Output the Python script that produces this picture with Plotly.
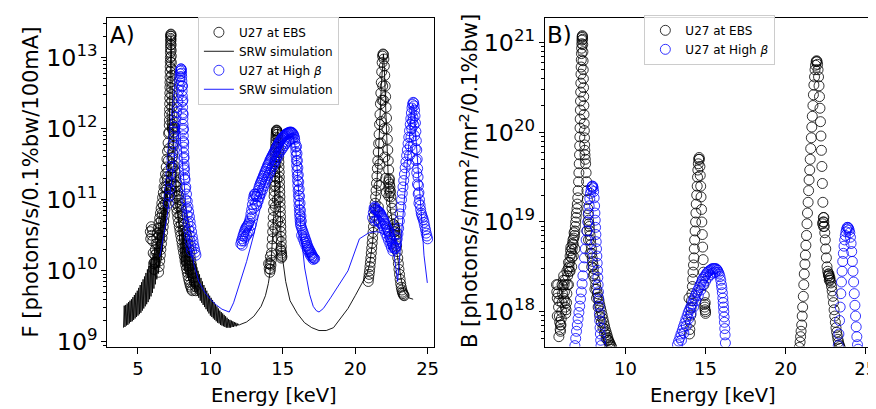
import plotly.graph_objects as go

W, H = 876, 409

# ================= PANEL A : flux (values are log10 of photons/s/0.1%bw/100mA) =================
# --- U27 at EBS, measured (black circles) ---
ebs_a_h1_e = [5.85, 5.88, 5.92, 5.95, 5.98, 6.02, 6.05, 6.08, 6.1, 6.13, 6.17, 6.2, 6.25, 6.3, 6.35, 6.4, 6.45,
              6.5, 6.55, 6.6, 6.65, 6.7, 6.75, 6.8, 6.85, 6.9, 6.95, 7.0, 7.04, 7.08, 7.12,
              6.42, 6.46, 6.5, 6.54, 6.58, 6.62, 6.66, 6.7, 6.74, 6.78, 6.82, 6.86, 6.9, 6.94, 6.98, 7.02, 7.06,
              7.1, 7.14,
              6.2, 6.28, 6.36, 6.44, 6.52, 6.6, 6.68, 6.76, 6.84, 6.92, 7.0,
              7.15, 7.16, 7.17, 7.175, 7.18, 7.19, 7.195, 7.2, 7.205, 7.21, 7.215, 7.22, 7.225, 7.23, 7.235, 7.24,
              7.245, 7.25, 7.255, 7.26, 7.265, 7.27, 7.275,
              7.28, 7.285, 7.29, 7.295, 7.3, 7.305, 7.31, 7.315, 7.32, 7.325, 7.33, 7.335, 7.34, 7.35, 7.36, 7.37,
              7.38, 7.39, 7.4,
              7.28, 7.32, 7.36, 7.4, 7.44, 7.48, 7.5, 7.46, 7.42, 7.38, 7.34, 7.3, 7.26, 7.22, 7.2,
              7.5, 7.55, 7.6, 7.65, 7.7, 7.75, 7.8, 7.85, 7.9, 7.95, 8.0, 8.05, 8.1, 8.15, 8.2, 8.25, 8.3, 8.35,
              8.4, 8.45, 8.5, 8.55, 8.6, 8.65, 8.7, 8.75, 8.8, 8.85, 8.9, 8.95, 9.0,
              7.42, 7.46, 7.5, 7.54, 7.58, 7.62, 7.66, 7.7, 7.75, 7.8, 7.85, 7.9, 7.95, 8.0, 8.05, 8.1, 8.15, 8.2,
              8.25, 8.3, 8.35, 8.4, 8.45, 8.5, 8.55, 8.6, 8.65, 8.7, 8.75,
              7.6, 7.7, 7.8, 7.9, 8.0, 8.1, 8.2, 8.3, 8.4, 8.5, 8.6, 8.7]
ebs_a_h1_log = [10.55, 10.45, 10.62, 10.5, 10.58, 10.42, 10.25, 10.1, 10.02, 10.12, 10.22, 10.3, 10.38, 10.46,
                10.53, 10.6, 10.67, 10.74, 10.81, 10.88, 10.95, 11.03, 11.1, 11.18, 11.27, 11.36, 11.46, 11.57,
                11.68, 11.8, 11.93,
                9.98, 10.06, 10.14, 10.22, 10.3, 10.38, 10.46, 10.54, 10.62, 10.7, 10.78, 10.86, 10.95, 11.05,
                11.15, 11.27, 11.4, 11.55, 11.72,
                10.12, 10.25, 10.38, 10.5, 10.6, 10.7, 10.8, 10.92, 11.05, 11.18, 11.32,
                11.95, 12.05, 12.12, 12.2, 12.27, 12.35, 12.43, 12.5, 12.58, 12.65, 12.72, 12.8, 12.87, 12.94,
                13.0, 13.07, 13.13, 13.18, 13.23, 13.27, 13.3, 13.32, 13.33,
                13.3, 13.25, 13.18, 13.1, 13.02, 12.93, 12.84, 12.75, 12.66, 12.57, 12.48, 12.39, 12.3, 12.2,
                12.12, 12.06, 12.02, 12.0, 11.98,
                11.2, 11.35, 11.5, 11.65, 11.8, 11.95, 12.02, 11.9, 11.75, 11.6, 11.45, 11.3, 11.15, 11.05, 11.1,
                11.48, 11.4, 11.32, 11.25, 11.18, 11.12, 11.06, 11.0, 10.95, 10.9, 10.85, 10.8, 10.75, 10.7,
                10.65, 10.6, 10.55, 10.5, 10.44, 10.38, 10.32, 10.26, 10.2, 10.14, 10.08, 10.02, 9.96, 9.9, 9.84,
                9.78, 9.72,
                11.45, 11.32, 11.22, 11.12, 11.03, 10.95, 10.88, 10.82, 10.75, 10.68, 10.62, 10.56, 10.5, 10.44,
                10.38, 10.32, 10.26, 10.2, 10.14, 10.08, 10.03, 9.98, 9.93, 9.88, 9.84, 9.8, 9.77, 9.74, 9.72,
                11.2, 11.05, 10.9, 10.78, 10.66, 10.56, 10.46, 10.36, 10.26, 10.16, 10.07, 9.98]
ebs_a_h2_e = [14.02, 14.06, 14.1, 14.12, 14.15, 14.18, 14.2, 14.14,
              14.22, 14.25, 14.28, 14.3, 14.32, 14.34, 14.36, 14.38, 14.4, 14.41, 14.42, 14.43, 14.44, 14.45,
              14.46, 14.47, 14.48, 14.49, 14.5, 14.51, 14.52, 14.53, 14.54, 14.55, 14.56, 14.57,
              14.6, 14.62, 14.64, 14.66, 14.68, 14.7, 14.71, 14.72, 14.73, 14.74, 14.75, 14.76, 14.77, 14.78,
              14.79, 14.8, 14.81, 14.82, 14.83, 14.84, 14.85, 14.86, 14.87, 14.88, 14.89, 14.9,
              14.88, 14.9, 14.92, 14.94, 14.9, 14.86,
              14.45, 14.48, 14.5, 14.52, 14.55, 14.58, 14.6, 14.62, 14.65, 14.68]
ebs_a_h2_log = [10.1, 10.03, 9.98, 10.1, 10.02, 10.08, 10.15, 10.2,
                10.25, 10.35, 10.45, 10.55, 10.65, 10.75, 10.85, 10.95, 11.05, 11.12, 11.19, 11.26, 11.33, 11.4,
                11.47, 11.54, 11.61, 11.67, 11.73, 11.79, 11.84, 11.88, 11.92, 11.95, 11.97, 11.98,
                11.97, 11.95, 11.92, 11.87, 11.81, 11.74, 11.67, 11.6, 11.53, 11.46, 11.39, 11.32, 11.25, 11.18,
                11.11, 11.04, 10.97, 10.9, 10.83, 10.76, 10.69, 10.62, 10.55, 10.48, 10.41, 10.34,
                10.28, 10.22, 10.25, 10.2, 10.18, 10.3,
                10.6, 10.9, 11.2, 11.5, 11.75, 11.6, 11.3, 11.0, 10.7, 10.45]
ebs_a_h3_e = [20.9, 20.93, 20.96, 20.99, 21.02, 21.05, 21.08, 21.11, 21.14, 21.17, 21.2, 21.23, 21.26, 21.29,
              21.32, 21.35, 21.38, 21.41, 21.44, 21.47, 21.5, 21.53, 21.56, 21.59, 21.62, 21.65, 21.68, 21.71,
              21.74, 21.77, 21.8, 21.83, 21.86, 21.89, 21.92,
              21.95, 21.98, 22.01, 22.04, 22.07, 22.1, 22.13, 22.16, 22.19, 22.22, 22.25, 22.28, 22.31, 22.34,
              22.37, 22.4, 22.43, 22.46, 22.5, 22.54, 22.58, 22.62, 22.66, 22.7, 22.74, 22.78, 22.82, 22.86, 22.9,
              22.94, 22.98, 23.02, 23.06, 23.1, 23.14, 23.18, 23.22, 23.26, 23.3, 23.34, 23.38,
              22.3, 22.33, 22.36, 22.4, 22.32, 22.65, 22.7, 22.72, 22.68, 22.75,
              21.6, 21.65, 21.7, 21.75, 21.8, 21.85, 21.9, 21.95, 22.0, 22.05, 22.1, 22.15]
ebs_a_h3_log = [9.85, 9.9, 9.95, 10.0, 10.06, 10.12, 10.18, 10.25, 10.32, 10.39, 10.46, 10.54, 10.62, 10.7, 10.78,
                10.86, 10.95, 11.04, 11.13, 11.23, 11.33, 11.44, 11.55, 11.67, 11.79, 11.92, 12.06, 12.2, 12.35,
                12.5, 12.65, 12.8, 12.93, 13.02, 13.05,
                13.04, 12.98, 12.88, 12.75, 12.6, 12.45, 12.3, 12.15, 12.0, 11.85, 11.7, 11.55, 11.42, 11.3,
                11.22, 11.18, 11.12, 11.04, 10.96, 10.88, 10.8, 10.72, 10.65, 10.6, 10.55, 10.5, 10.43, 10.35,
                10.27, 10.18, 10.1, 10.02, 9.95, 9.88, 9.82, 9.77, 9.73, 9.7, 9.68, 9.66, 9.65,
                11.25, 11.15, 11.28, 11.1, 11.05, 10.65, 10.55, 10.62, 10.5, 10.58,
                10.9, 11.2, 11.5, 11.8, 12.1, 12.4, 12.6, 12.4, 12.0, 11.6, 11.3, 11.1]

# --- SRW simulation for EBS (black line): fast-oscillating envelopes + smooth parts ---
srw_ebs_lo1_e = [4.0, 4.1, 4.2, 4.3, 4.4, 4.5, 4.6, 4.7, 4.8, 4.9, 5.0, 5.1, 5.2, 5.3, 5.4, 5.5, 5.6, 5.7, 5.8,
                 5.9, 6.0, 6.1, 6.2, 6.3, 6.4, 6.5, 6.6, 6.7, 6.8, 6.9, 7.0]
srw_ebs_lo1_log = [9.20, 9.21, 9.23, 9.24, 9.26, 9.28, 9.29, 9.31, 9.33, 9.35, 9.37, 9.39, 9.41, 9.44, 9.47, 9.50,
                   9.53, 9.56, 9.60, 9.64, 9.69, 9.75, 9.81, 9.88, 9.96, 10.05, 10.15, 10.27, 10.41, 10.58, 10.8]
srw_ebs_hi1_e = [4.05, 4.15, 4.25, 4.35, 4.45, 4.55, 4.65, 4.75, 4.85, 4.95, 5.05, 5.15, 5.25, 5.35, 5.45, 5.55,
                 5.65, 5.75, 5.85, 5.95, 6.05, 6.15, 6.25, 6.35, 6.45, 6.55, 6.65, 6.75, 6.85, 6.95]
srw_ebs_hi1_log = [9.51, 9.52, 9.54, 9.56, 9.58, 9.60, 9.63, 9.66, 9.69, 9.72, 9.76, 9.80, 9.84, 9.88, 9.92, 9.97,
                   10.02, 10.07, 10.12, 10.18, 10.25, 10.33, 10.42, 10.52, 10.62, 10.72, 10.85, 11.0, 11.15, 11.3]
srw_ebs_peak_e = [7.05, 7.1, 7.15, 7.2, 7.25, 7.28, 7.31, 7.35, 7.4, 7.5, 7.6, 7.7, 7.8, 7.9]
srw_ebs_peak_log = [11.0, 11.4, 11.9, 12.5, 13.1, 13.3, 13.1, 12.6, 12.1, 11.6, 11.3, 11.0, 10.75, 10.5]
srw_ebs_lo2_e = [8.0, 8.1, 8.2, 8.3, 8.4, 8.5, 8.6, 8.7, 8.8, 8.9, 9.0, 9.1, 9.2, 9.3, 9.4, 9.5, 9.6, 9.7, 9.8,
                 9.9, 10.0, 10.1, 10.2, 10.3, 10.4, 10.5, 10.6, 10.7, 10.8, 10.9, 11.0, 11.1, 11.2, 11.3, 11.4,
                 11.5, 11.6, 11.7, 11.8, 11.9, 12.0]
srw_ebs_lo2_log = [10.10, 10.05, 10.00, 9.95, 9.90, 9.86, 9.82, 9.78, 9.74, 9.71, 9.68, 9.65, 9.62, 9.58, 9.55,
                   9.52, 9.49, 9.46, 9.43, 9.40, 9.37, 9.35, 9.33, 9.31, 9.29, 9.27, 9.26, 9.24, 9.23, 9.22, 9.21,
                   9.20, 9.20, 9.20, 9.20, 9.21, 9.21, 9.22, 9.22, 9.23, 9.24]
srw_ebs_hi2_e = [8.05, 8.15, 8.25, 8.35, 8.45, 8.55, 8.65, 8.75, 8.85, 8.95, 9.05, 9.15, 9.25, 9.35, 9.45, 9.55,
                 9.65, 9.75, 9.85, 9.95, 10.05, 10.15, 10.25, 10.35, 10.45, 10.55, 10.65, 10.75, 10.85, 10.95,
                 11.05, 11.15, 11.25, 11.35, 11.45, 11.55, 11.65, 11.75, 11.85, 11.95]
srw_ebs_hi2_log = [10.6, 10.54, 10.48, 10.42, 10.36, 10.30, 10.25, 10.20, 10.15, 10.10, 10.05, 10.0, 9.95, 9.9,
                   9.85, 9.8, 9.76, 9.72, 9.68, 9.65, 9.62, 9.59, 9.56, 9.53, 9.5, 9.47, 9.44, 9.42, 9.40, 9.38,
                   9.36, 9.34, 9.32, 9.31, 9.30, 9.29, 9.28, 9.27, 9.26, 9.25]
srw_ebs_tail_e = [12.5, 13.0, 13.5, 13.8, 14.0, 14.1, 14.2, 14.3, 14.4, 14.5, 14.6, 14.65, 14.7, 14.75, 14.8, 14.85,
                  14.9, 15.0, 15.2, 15.5, 16.0, 16.5, 17.0, 17.5, 18.0, 18.5, 19.0, 19.5, 20.0, 20.5, 20.8, 21.0,
                  21.2, 21.4, 21.6, 21.8, 21.9, 21.95, 22.0, 22.1, 22.2, 22.3, 22.4, 22.6, 22.8, 23.0, 23.2, 23.4,
                  23.7, 24.0]
srw_ebs_tail_log = [9.28, 9.36, 9.5, 9.65, 9.82, 9.95, 10.15, 10.45, 10.85, 11.4, 11.9, 12.0, 11.85, 11.4, 10.9,
                    10.5, 10.3, 10.15, 9.85, 9.58, 9.4, 9.27, 9.2, 9.16, 9.16, 9.2, 9.33, 9.47, 9.65, 9.85, 9.95,
                    10.1, 10.4, 10.9, 11.6, 12.6, 13.0, 13.05, 12.9, 12.3, 11.7, 11.2, 10.9, 10.6, 10.35, 10.1,
                    9.85, 9.7, 9.62, 9.6]

# --- U27 at High beta, measured (blue circles) ---
hb_a_h1_e = [7.1, 7.14, 7.18, 7.22, 7.26, 7.3, 7.34, 7.38, 7.42, 7.46, 7.5, 7.54, 7.58, 7.62, 7.66, 7.7, 7.74,
             7.78, 7.82, 7.85, 7.88, 7.9, 7.92, 7.94, 7.96,
             7.98, 8.0, 8.01, 8.02, 8.03, 8.04, 8.05, 8.06, 8.07, 8.08, 8.09, 8.1, 8.11, 8.12, 8.13, 8.14, 8.15,
             8.16, 8.17, 8.18, 8.2, 8.22, 8.25,
             8.3, 8.35, 8.4, 8.45, 8.5, 8.55, 8.6, 8.65, 8.7, 8.75, 8.8, 8.85, 8.9, 8.95, 9.0,
             8.08, 8.1, 8.12, 8.14, 8.16, 8.18, 8.2, 8.23, 8.26, 8.3, 8.35, 8.4, 8.45, 8.5, 8.55, 8.6, 8.65, 8.7]
hb_a_h1_log = [10.95, 11.05, 11.15, 11.25, 11.36, 11.47, 11.58, 11.68, 11.78, 11.87, 11.95, 12.02, 12.09, 12.16,
               12.23, 12.3, 12.38, 12.46, 12.54, 12.61, 12.68, 12.73, 12.77, 12.81, 12.84,
               12.84, 12.82, 12.78, 12.73, 12.67, 12.6, 12.53, 12.46, 12.38, 12.3, 12.22, 12.14, 12.06, 11.98,
               11.9, 11.82, 11.74, 11.66, 11.58, 11.5, 11.42, 11.35, 11.28,
               11.18, 11.08, 10.98, 10.9, 10.83, 10.76, 10.69, 10.62, 10.55, 10.48, 10.42, 10.36, 10.31, 10.26,
               10.22,
               12.6, 12.4, 12.2, 12.0, 11.8, 11.6, 11.45, 11.3, 11.15, 11.0, 10.88, 10.78, 10.68, 10.58, 10.5,
               10.42, 10.35, 10.28]
hb_a_h2_e = [12.1, 12.15, 12.2, 12.25, 12.3, 12.35, 12.4, 12.45, 12.5, 12.55, 12.6, 12.65, 12.7, 12.75, 12.8,
             12.85, 12.9, 12.95, 13.0, 13.05, 13.1, 13.15, 13.2, 13.25, 13.3, 13.35, 13.4, 13.45, 13.5, 13.55,
             13.6, 13.65, 13.7, 13.75, 13.8, 13.85, 13.9, 13.95, 14.0, 14.05, 14.1, 14.15, 14.2, 14.25, 14.3,
             14.35, 14.4, 14.45, 14.5, 14.55, 14.6, 14.65, 14.7, 14.75, 14.8, 14.85, 14.9, 14.95, 15.0, 15.05,
             15.1, 15.15, 15.2, 15.25, 15.3, 15.35, 15.4, 15.45, 15.5, 15.55, 15.6, 15.65, 15.7, 15.75, 15.8,
             12.2, 12.3, 12.4, 12.5, 12.6, 12.7, 12.8, 12.9, 13.0, 13.1, 13.2, 13.3, 13.4, 13.5, 13.6, 13.7,
             13.8, 13.9, 14.0, 14.1, 14.2, 14.3, 14.4, 14.5, 14.6, 14.7, 14.8, 14.9, 15.0, 15.1, 15.2, 15.3,
             15.4, 15.5, 15.6, 15.7,
             15.82, 15.85, 15.88, 15.9, 15.92, 15.94, 15.96, 15.98, 16.0, 16.02, 16.04, 16.06, 16.08, 16.1,
             16.12, 16.14, 16.16, 16.18, 16.2, 16.22,
             15.95, 15.98, 16.01, 16.04, 16.07, 16.1, 16.13, 16.16, 16.19, 16.22, 16.25, 16.28,
             16.25, 16.3, 16.35, 16.4, 16.45, 16.5, 16.55, 16.6, 16.65, 16.7, 16.75, 16.8, 16.85, 16.9, 16.95,
             17.0, 17.05, 17.1, 17.15, 17.2,
             16.3, 16.4, 16.5, 16.6, 16.7, 16.8, 16.9, 17.0, 17.1]
hb_a_h2_log = [10.38, 10.42, 10.45, 10.49, 10.52, 10.55, 10.58, 10.6, 10.62, 10.63, 10.65, 10.67, 10.7, 10.74,
               10.8, 10.86, 10.93, 11.0, 11.05, 11.08, 11.08, 11.05, 11.04, 11.08, 11.13, 11.17, 11.2, 11.23,
               11.25, 11.28, 11.3, 11.33, 11.35, 11.38, 11.4, 11.43, 11.45, 11.48, 11.5, 11.52, 11.55, 11.57,
               11.59, 11.61, 11.63, 11.65, 11.67, 11.69, 11.71, 11.73, 11.75, 11.77, 11.79, 11.81, 11.82, 11.84,
               11.85, 11.87, 11.88, 11.89, 11.9, 11.91, 11.92, 11.93, 11.93, 11.94, 11.94, 11.95, 11.95, 11.95,
               11.95, 11.94, 11.93, 11.91, 11.88,
               10.36, 10.42, 10.47, 10.5, 10.53, 10.56, 10.64, 10.76, 10.88, 10.94, 10.92, 10.98, 11.04, 11.09,
               11.14, 11.19, 11.24, 11.29, 11.34, 11.38, 11.43, 11.47, 11.51, 11.55, 11.59, 11.63, 11.67, 11.7,
               11.73, 11.76, 11.79, 11.81, 11.83, 11.85, 11.86, 11.86,
               11.85, 11.8, 11.74, 11.68, 11.62, 11.55, 11.48, 11.41, 11.34, 11.27, 11.2, 11.13, 11.06, 10.99,
               10.92, 10.86, 10.8, 10.75, 10.7, 10.66,
               11.75, 11.65, 11.55, 11.45, 11.35, 11.25, 11.15, 11.05, 10.95, 10.85, 10.77, 10.7,
               10.63, 10.6, 10.57, 10.54, 10.51, 10.48, 10.45, 10.42, 10.39, 10.36, 10.33, 10.31, 10.29, 10.27,
               10.25, 10.23, 10.21, 10.19, 10.18, 10.17,
               10.5, 10.45, 10.4, 10.35, 10.3, 10.26, 10.22, 10.19, 10.16]
hb_a_h3_e = [21.2, 21.25, 21.3, 21.35, 21.4, 21.45, 21.5, 21.55, 21.6, 21.65, 21.7, 21.75, 21.8, 21.85, 21.9,
             21.95, 22.0, 22.05, 22.1, 22.15, 22.2, 22.25, 22.3, 22.35, 22.4, 22.45, 22.5, 22.55, 22.6, 22.65,
             22.7, 22.75, 22.8, 22.85, 22.9,
             21.4, 21.5, 21.6, 21.7, 21.8, 21.9, 22.0, 22.1, 22.2, 22.3, 22.4, 22.5, 22.6,
             22.95, 23.0, 23.05, 23.1, 23.15, 23.2, 23.25, 23.3, 23.35, 23.4, 23.45, 23.5, 23.55, 23.6, 23.65,
             23.7, 23.75, 23.8, 23.84, 23.88, 23.92, 23.96, 24.0,
             24.04, 24.07, 24.1, 24.13, 24.16, 24.19, 24.22, 24.25, 24.28, 24.31, 24.34, 24.37, 24.4, 24.44,
             24.48, 24.52, 24.56, 24.6, 24.65, 24.7, 24.75, 24.8, 24.85, 24.9, 24.95, 25.0,
             23.7, 23.75, 23.8, 23.85, 23.9, 23.95, 24.0, 24.05, 24.1, 24.15, 24.2, 24.25, 24.3, 24.35, 24.4]
hb_a_h3_log = [10.75, 10.82, 10.88, 10.9, 10.88, 10.86, 10.85, 10.84, 10.84, 10.83, 10.82, 10.8, 10.78, 10.76,
               10.74, 10.72, 10.7, 10.67, 10.65, 10.62, 10.6, 10.57, 10.55, 10.52, 10.48, 10.45, 10.42, 10.39,
               10.36, 10.34, 10.32, 10.31, 10.33, 10.38, 10.45,
               10.7, 10.72, 10.7, 10.68, 10.66, 10.63, 10.58, 10.53, 10.48, 10.43, 10.38, 10.33, 10.28,
               10.52, 10.6, 10.7, 10.8, 10.9, 11.0, 11.09, 11.18, 11.27, 11.36, 11.45, 11.53, 11.62, 11.7, 11.79,
               11.88, 11.97, 12.06, 12.14, 12.22, 12.29, 12.34, 12.37,
               12.36, 12.32, 12.26, 12.18, 12.08, 11.96, 11.83, 11.7, 11.57, 11.44, 11.32, 11.2, 11.1, 11.0,
               10.92, 10.86, 10.81, 10.78, 10.75, 10.72, 10.68, 10.63, 10.58, 10.53, 10.49, 10.45,
               11.5, 11.62, 11.75, 11.88, 12.0, 12.1, 12.15, 12.05, 11.9, 11.72, 11.55, 11.38, 11.22, 11.08, 10.95]

# --- SRW simulation for High beta (blue line) ---
srw_hb_e = [6.5, 6.8, 7.0, 7.2, 7.4, 7.55, 7.65, 7.75, 7.8, 7.85, 7.95, 8.05, 8.2, 8.4, 8.6, 8.85, 9.2, 9.6,
            10.0, 10.4, 10.8, 11.1, 11.3, 11.6, 12.05, 12.5, 12.97, 13.42, 13.88, 14.34, 14.8, 15.2, 15.5, 15.7,
            15.9, 16.1, 16.28, 16.51, 16.85, 17.1, 17.31, 17.5, 17.8, 18.3, 18.92, 19.5, 20.29, 20.98, 21.5,
            22.1, 22.4, 22.69, 22.93, 23.1, 23.3, 23.5, 23.7, 23.85, 23.95, 24.05, 24.15, 24.3, 24.53, 24.75,
            24.98]
srw_hb_log = [10.2, 10.5, 10.75, 11.05, 11.4, 11.7, 11.9, 12.05, 12.08, 12.05, 11.8, 11.5, 11.1, 10.7, 10.4,
              10.1, 9.85, 9.7, 9.6, 9.52, 9.46, 9.43, 9.42, 9.55, 9.85, 10.13, 10.49, 10.86, 11.18, 11.41, 11.6,
              11.75, 11.85, 11.9, 11.7, 11.1, 10.49, 10.04, 9.67, 9.5, 9.44, 9.42, 9.47, 9.62, 9.81, 10.0, 10.45,
              10.54, 10.55, 10.52, 10.4, 10.22, 9.85, 10.3, 10.8, 11.3, 11.8, 12.15, 12.35, 12.3, 12.0, 11.5,
              10.9, 10.22, 9.83]

# ================= PANEL B : brilliance (log10 of photons/s/mm^2/mr^2/0.1%bw) =================
ebs_b_h1_e = [5.7, 5.72, 5.75, 5.78, 5.8, 5.83, 5.85, 5.88, 5.9, 5.93, 5.95, 5.98, 6.0, 6.03, 6.05, 6.08, 6.1,
              6.13, 6.15, 6.18, 6.2, 6.23, 6.25, 6.28, 6.3, 6.33, 6.35, 6.38, 6.4, 6.43, 6.45, 6.48, 6.5, 6.53,
              6.55, 6.58, 6.6, 6.63, 6.65, 6.68, 6.7, 6.73, 6.75, 6.78, 6.8, 6.83, 6.85, 6.88, 6.9, 6.93, 6.95,
              6.98, 7.0, 7.03, 7.05, 7.08, 7.1,
              5.75, 5.85, 5.95, 6.05, 6.15, 6.25, 6.35, 6.45, 6.55, 6.65, 6.75, 6.85,
              7.12, 7.14, 7.15, 7.16, 7.17, 7.18, 7.19, 7.2, 7.21, 7.22, 7.23, 7.24, 7.25, 7.26, 7.27, 7.28,
              7.29, 7.3, 7.31,
              7.32, 7.33, 7.34, 7.35, 7.36, 7.37, 7.38, 7.39, 7.4, 7.41, 7.42, 7.43, 7.44, 7.45, 7.46, 7.47,
              7.48, 7.5,
              7.52, 7.55, 7.58, 7.6, 7.63, 7.65, 7.68, 7.7, 7.73, 7.75, 7.78, 7.8, 7.83, 7.85, 7.88, 7.9, 7.93,
              7.95, 7.98, 8.0, 8.05, 8.1, 8.15, 8.2, 8.25, 8.3, 8.35, 8.4, 8.45, 8.5, 8.55, 8.6, 8.65, 8.7, 8.75,
              8.8, 8.85, 8.9, 8.95, 9.0, 9.05, 9.1, 9.15,
              7.6, 7.7, 7.8, 7.9, 8.0, 8.1, 8.2, 8.3, 8.4, 8.5, 8.6, 8.7, 8.8, 8.9, 9.0, 9.1]
ebs_b_h1_log = [18.3, 18.22, 18.15, 18.3, 18.2, 18.05, 18.12, 17.95, 17.88, 17.8, 17.78, 17.85, 17.92, 18.0, 18.1,
                18.2, 18.28, 18.35, 18.4, 18.3, 18.22, 18.12, 18.05, 17.98, 18.02, 18.1, 18.2, 18.3, 18.4, 18.48,
                18.55, 18.5, 18.45, 18.55, 18.62, 18.68, 18.72, 18.65, 18.6, 18.7, 18.76, 18.8, 18.75, 18.82,
                18.88, 18.85, 18.9, 18.95, 19.0, 19.05, 19.1, 19.15, 19.2, 19.27, 19.35, 19.45, 19.55,
                17.95, 17.72, 17.85, 18.3, 18.15, 18.35, 18.45, 18.3, 18.45, 18.5, 18.62, 18.7,
                19.65, 19.75, 19.85, 19.95, 20.05, 20.15, 20.25, 20.35, 20.45, 20.55, 20.65, 20.73, 20.81,
                20.88, 20.94, 20.99, 21.03, 21.06, 21.08,
                21.07, 21.04, 20.98, 20.9, 20.8, 20.7, 20.6, 20.5, 20.4, 20.3, 20.2, 20.1, 20.02, 19.94, 19.86,
                19.8, 19.75, 19.7,
                19.65, 19.55, 19.45, 19.35, 19.25, 19.15, 19.08, 19.02, 18.98, 18.95, 18.9, 18.85, 18.8, 18.75,
                18.7, 18.65, 18.6, 18.56, 18.52, 18.48, 18.42, 18.36, 18.3, 18.25, 18.2, 18.16, 18.12, 18.08,
                18.04, 18.0, 17.96, 17.92, 17.88, 17.84, 17.8, 17.77, 17.74, 17.71, 17.68, 17.66, 17.64, 17.62,
                17.6,
                18.9, 18.8, 18.65, 18.5, 18.4, 18.25, 18.15, 18.05, 17.95, 17.88, 17.82, 17.76, 17.7, 17.68,
                17.62, 17.58]
ebs_b_h2_e = [13.97, 14.0, 14.02, 14.05, 14.08, 14.1, 14.12, 14.15, 14.18, 14.2, 14.22, 14.25, 14.28, 14.3,
              14.32, 14.35, 14.38, 14.4, 14.42, 14.45, 14.48, 14.5, 14.52, 14.55, 14.57, 14.6, 14.62, 14.65,
              14.67, 14.7, 14.72, 14.75, 14.77, 14.8, 14.82, 14.85, 14.87, 14.9, 14.92, 14.95, 14.97, 15.0,
              14.95, 15.0, 14.98]
ebs_b_h2_log = [18.15, 17.75, 17.8, 17.88, 17.96, 18.04, 18.12, 18.2, 18.28, 18.36, 18.44, 18.52, 18.6, 18.7,
                18.8, 18.9, 19.0, 19.1, 19.2, 19.3, 19.4, 19.5, 19.58, 19.65, 19.7, 19.72, 19.7, 19.62, 19.52,
                19.4, 19.28, 19.14, 19.0, 18.86, 18.72, 18.58, 18.44, 18.3, 18.18, 18.08, 18.02, 18.0,
                18.05, 17.98, 18.1]
ebs_b_h3_e = [20.85, 20.9, 20.93, 20.96, 21.0, 21.03, 21.06, 21.1, 21.13, 21.16, 21.2, 21.23, 21.26, 21.3, 21.33,
              21.36, 21.4, 21.43, 21.46, 21.5, 21.53, 21.56, 21.6, 21.63, 21.66, 21.7, 21.73, 21.76, 21.8, 21.83,
              21.86, 21.9, 21.93,
              21.96, 21.99, 22.02, 22.05, 22.08, 22.11, 22.14, 22.17, 22.2, 22.23, 22.26, 22.29, 22.32, 22.35,
              22.38, 22.41, 22.44, 22.47, 22.5, 22.54, 22.58, 22.62, 22.66, 22.7, 22.74, 22.78, 22.82, 22.86,
              22.9, 22.94, 22.98, 23.02, 23.06, 23.1, 23.14, 23.18, 23.22, 23.26, 23.3, 23.34, 23.38, 23.42,
              22.33, 22.36, 22.38, 22.3, 22.7, 22.72, 22.68, 22.76]
ebs_b_h3_log = [17.6, 17.66, 17.72, 17.78, 17.85, 17.95, 18.05, 18.17, 18.3, 18.42, 18.53, 18.63, 18.74, 18.85,
                18.98, 19.1, 19.22, 19.35, 19.47, 19.58, 19.7, 19.82, 19.94, 20.06, 20.18, 20.3, 20.42, 20.53,
                20.62, 20.7, 20.75, 20.79, 20.8,
                20.79, 20.76, 20.7, 20.62, 20.52, 20.4, 20.27, 20.12, 19.96, 19.8, 19.62, 19.43, 19.22, 19.05,
                19.0, 18.95, 18.88, 18.8, 18.7, 18.6, 18.5, 18.45, 18.42, 18.4, 18.37, 18.35, 18.32, 18.28,
                18.23, 18.17, 18.1, 18.02, 17.95, 17.88, 17.82, 17.77, 17.73, 17.69, 17.66, 17.63, 17.61, 17.59,
                19.0, 18.95, 19.05, 18.98, 18.42, 18.35, 18.4, 18.38]
hb_b_h1_e = [6.85, 6.9, 6.95, 7.0, 7.05, 7.1, 7.15, 7.2, 7.25, 7.3, 7.35, 7.4, 7.45, 7.5, 7.55, 7.6, 7.65, 7.7,
             7.74, 7.78, 7.82, 7.86, 7.9, 7.93, 7.96, 7.99, 8.02, 8.05, 8.08, 8.1, 8.12, 8.14, 8.16, 8.18, 8.2,
             8.22, 8.24, 8.26, 8.28, 8.3, 8.32, 8.34, 8.36, 8.38, 8.4, 8.42, 8.44, 8.46, 8.48]
hb_b_h1_log = [17.62, 17.7, 17.78, 17.85, 17.92, 17.99, 18.06, 18.14, 18.22, 18.31, 18.4, 18.5, 18.6, 18.7, 18.8,
               18.9, 19.0, 19.1, 19.18, 19.26, 19.32, 19.36, 19.39, 19.4, 19.4, 19.38, 19.34, 19.27, 19.18, 19.1,
               19.02, 18.94, 18.86, 18.78, 18.7, 18.62, 18.54, 18.46, 18.38, 18.3, 18.22, 18.14, 18.06, 17.98,
               17.9, 17.82, 17.75, 17.68, 17.62]
hb_b_h2_e = [13.25, 13.32, 13.4, 13.47, 13.55, 13.62, 13.7, 13.77, 13.85, 13.92, 14.0, 14.07, 14.15, 14.22, 14.3,
             14.37, 14.45, 14.52, 14.6, 14.67, 14.75, 14.82, 14.9, 14.97, 15.05, 15.12, 15.2, 15.27, 15.35, 15.42,
             15.5, 15.57, 15.65, 15.7, 15.75, 15.8, 15.85, 15.9, 15.95, 15.99, 16.02, 16.05, 16.08, 16.1, 16.12,
             16.14, 16.16, 16.18, 16.2, 16.22, 16.24,
             13.5, 13.65, 13.8, 13.95, 14.1, 14.25, 14.4, 14.55, 14.7, 14.85, 15.0, 15.15, 15.3, 15.45, 15.6]
hb_b_h2_log = [17.63, 17.67, 17.71, 17.75, 17.79, 17.83, 17.87, 17.91, 17.95, 17.99, 18.02, 18.05, 18.08, 18.12,
               18.15, 18.18, 18.21, 18.24, 18.27, 18.3, 18.33, 18.36, 18.38, 18.4, 18.42, 18.44, 18.45, 18.46,
               18.47, 18.48, 18.48, 18.48, 18.48, 18.47, 18.46, 18.44, 18.42, 18.39, 18.35, 18.3, 18.26, 18.21,
               18.15, 18.1, 18.05, 18.0, 17.94, 17.88, 17.81, 17.74, 17.65,
               17.68, 17.76, 17.84, 17.92, 17.98, 18.05, 18.12, 18.18, 18.24, 18.3, 18.34, 18.38, 18.41, 18.43,
               18.44]
hb_b_h3_e = [23.28, 23.32, 23.36, 23.4, 23.44, 23.48, 23.52, 23.56, 23.6, 23.64, 23.68, 23.72, 23.76, 23.8, 23.84,
             23.88, 23.92, 23.96, 24.0, 24.04, 24.08, 24.12, 24.16, 24.2, 24.24, 24.28, 24.32, 24.36, 24.4, 24.44,
             24.48, 24.52]
hb_b_h3_log = [17.62, 17.75, 17.9, 18.05, 18.2, 18.33, 18.45, 18.56, 18.65, 18.73, 18.8, 18.85, 18.89, 18.92,
               18.94, 18.94, 18.93, 18.91, 18.88, 18.83, 18.76, 18.67, 18.56, 18.45, 18.33, 18.2, 18.07, 17.95,
               17.83, 17.72, 17.63, 17.58]

# ---------------- styling ----------------
FONT = "DejaVu Sans"
BLUE = "#0000ff"


def pw(vals):
    return [10 ** v for v in vals]


def zigzag(lo_e, lo_v, hi_e, hi_v):
    pts = sorted(zip(lo_e + hi_e, lo_v + hi_v))
    return [p[0] for p in pts], [p[1] for p in pts]


z1e, z1v = zigzag(srw_ebs_lo1_e, srw_ebs_lo1_log, srw_ebs_hi1_e, srw_ebs_hi1_log)
z2e, z2v = zigzag(srw_ebs_lo2_e, srw_ebs_lo2_log, srw_ebs_hi2_e, srw_ebs_hi2_log)
srw_ebs_e = z1e + srw_ebs_peak_e + z2e + srw_ebs_tail_e
srw_ebs_v = z1v + srw_ebs_peak_log + z2v + srw_ebs_tail_log

mk_black = dict(symbol="circle-open", size=10, color="black", line=dict(width=0.8, color="black"))
mk_blue = dict(symbol="circle-open", size=10, color=BLUE, line=dict(width=0.8, color=BLUE))

fig = go.Figure()
fig.add_trace(go.Scatter(x=ebs_a_h1_e + ebs_a_h2_e + ebs_a_h3_e,
                         y=pw(ebs_a_h1_log + ebs_a_h2_log + ebs_a_h3_log),
                         mode="markers", marker=mk_black, name="U27 at EBS",
                         xaxis="x", yaxis="y", legend="legend"))
fig.add_trace(go.Scatter(x=srw_ebs_e, y=pw(srw_ebs_v), mode="lines",
                         line=dict(color="black", width=0.9), name="SRW simulation",
                         xaxis="x", yaxis="y", legend="legend"))
fig.add_trace(go.Scatter(x=hb_a_h1_e + hb_a_h2_e + hb_a_h3_e,
                         y=pw(hb_a_h1_log + hb_a_h2_log + hb_a_h3_log),
                         mode="markers", marker=mk_blue, name="U27 at High <i>β</i>",
                         xaxis="x", yaxis="y", legend="legend"))
fig.add_trace(go.Scatter(x=srw_hb_e, y=pw(srw_hb_log), mode="lines",
                         line=dict(color=BLUE, width=0.9), name="SRW simulation",
                         xaxis="x", yaxis="y", legend="legend"))

fig.add_trace(go.Scatter(x=ebs_b_h1_e + ebs_b_h2_e + ebs_b_h3_e,
                         y=pw(ebs_b_h1_log + ebs_b_h2_log + ebs_b_h3_log),
                         mode="markers", marker=mk_black,
                         name="U27 at EBS", xaxis="x2", yaxis="y2", legend="legend2"))
fig.add_trace(go.Scatter(x=hb_b_h1_e + hb_b_h2_e + hb_b_h3_e,
                         y=pw(hb_b_h1_log + hb_b_h2_log + hb_b_h3_log),
                         mode="markers", marker=mk_blue,
                         name="U27 at High <i>β</i>", xaxis="x2", yaxis="y2", legend="legend2"))

ydom = [1 - 347 / H, 1 - 10 / H]
xax_common = dict(showline=True, linecolor="black", linewidth=1, mirror=True, ticks="outside",
                  ticklen=6, tickwidth=1, tickcolor="black", showgrid=False, zeroline=False,
                  tickfont=dict(family=FONT, size=18, color="black"))
yax_common = dict(type="log", showline=True, linecolor="black", linewidth=1, mirror=True,
                  ticks="outside", ticklen=5, tickwidth=1, tickcolor="black", showgrid=False,
                  zeroline=False, dtick=1, exponentformat="power",
                  tickfont=dict(family=FONT, size=19, color="black"),
                  minor=dict(ticks="outside", ticklen=3, tickcolor="black", dtick="D1", showgrid=False))

leg_common = dict(xanchor="left", yanchor="top", bgcolor="rgba(255,255,255,0.85)",
                  bordercolor="#cccccc", borderwidth=1,
                  font=dict(family=FONT, size=12, color="black"), tracegroupgap=0)

fig.update_layout(
    width=W, height=H, margin=dict(l=0, r=0, t=0, b=0),
    paper_bgcolor="white", plot_bgcolor="white",
    font=dict(family=FONT, color="black"),
    xaxis=dict(domain=[100 / W, 428 / W], range=[2.89, 25.41], tickvals=[5, 10, 15, 20, 25],
               anchor="y", **xax_common),
    yaxis=dict(domain=ydom, range=[8.935, 13.56], anchor="x", **yax_common),
    xaxis2=dict(domain=[540 / W, 875 / W], range=[4.98, 25.76], tickvals=[10, 15, 20, 25],
                anchor="y2", **xax_common),
    yaxis2=dict(domain=ydom, range=[17.61, 21.28], anchor="x2", **yax_common),
    legend=dict(x=191 / W, y=1 - 9 / H, **leg_common),
    legend2=dict(x=640 / W, y=1 - 7 / H, **leg_common),
    showlegend=True,
)

annots = [
    dict(text="A)", x=101 / W, y=1 - 28 / H, xanchor="left", yanchor="middle", font=dict(size=23)),
    dict(text="B)", x=540 / W, y=1 - 28 / H, xanchor="left", yanchor="middle", font=dict(size=23)),
    dict(text="Energy [keV]", x=268 / W, y=1 - 397 / H, xanchor="center", yanchor="middle",
         font=dict(size=19.5)),
    dict(text="Energy [keV]", x=709 / W, y=1 - 397 / H, xanchor="center", yanchor="middle",
         font=dict(size=19.5)),
    dict(text="F [photons/s/0.1%bw/100mA]", x=23 / W, y=1 - 178 / H, xanchor="center",
         yanchor="middle", textangle=-90, font=dict(size=21)),
    dict(text="B [photons/s/mm<sup>2</sup>/mr<sup>2</sup>/0.1%bw]", x=463 / W, y=1 - 177 / H,
         xanchor="center", yanchor="middle", textangle=-90, font=dict(size=21)),
]
for a in annots:
    a.update(xref="paper", yref="paper", showarrow=False)
    a["font"].update(family=FONT, color="black")
fig.update_layout(annotations=annots)

fig.write_html("out.html")
